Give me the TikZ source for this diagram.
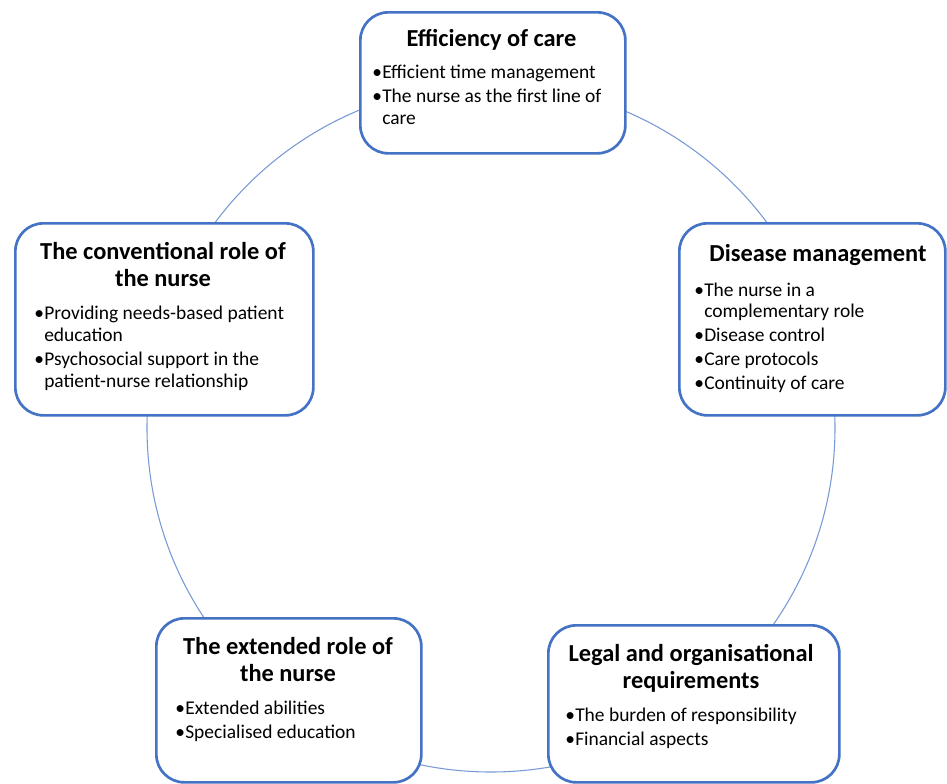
\documentclass[tikz,border=0pt]{standalone}
\usepackage{fontspec}
\setmainfont{Carlito}
\usetikzlibrary{calc}
\definecolor{boxblue}{HTML}{4472C4}
\definecolor{ringblue}{HTML}{7899D4}
\newlength\bulw
\setlength\bulw{7.5pt}
\def\Bul{\makebox[\bulw][l]{\textbullet}}
\def\Cont{\hspace*{\bulw}}
\def\ThemeBox#1#2#3#4#5{%
 \node[theme box, minimum width=#4*0.75pt, minimum height=#5*0.75pt] (#1) at (#2,#3) {};
}

\begin{document}
\begin{tikzpicture}[x=0.75pt, y=-0.75pt,
  theme box/.style={draw=boxblue, line width=2pt, rounded corners=21pt,
      fill=white, anchor=north west, inner sep=0pt},
  theme title/.style={font=\fontsize{18.3}{20.25}\selectfont\bfseries,
      align=center, anchor=base, inner sep=0pt},
  theme list/.style={font=\fontsize{14.6}{16.3}\selectfont,
      align=left, anchor=base west, inner sep=0pt}]
\useasboundingbox (0,0) rectangle (947,783);
\clip (0,0) rectangle (947,783);
\coordinate (hub) at (491,428);
\draw[ringblue, line width=0.8pt] (hub) circle[radius=344];

\ThemeBox{eff}{359}{11}{265}{141}
\ThemeBox{conv}{14}{222}{298}{192}
\ThemeBox{dis}{678}{222}{266}{192}
\ThemeBox{ext}{155}{617}{265}{164}
\ThemeBox{legal}{547}{624}{291}{157}

% titles (placed at the baseline of their last line)
\node[theme title] (eff title) at (491.5,46) {Efficiency of care};
\node[theme title] (conv title) at (163,286) {The conventional role of\\the nurse};
\node[theme title] (dis title) at (818,261) {Disease management};
\node[theme title] (ext title) at (288,681) {The extended role of\\the nurse};
\node[theme title] (legal title) at (691,688) {Legal and organisational\\requirements};

% bullet lists
\node[theme list] (eff list) at (372,124) {\Bul Efficient time management\\[1.5pt]
  \Bul The nurse as the first line of\\\Cont care};
\node[theme list] (conv list) at (34,387) {\Bul Providing needs-based patient\\\Cont education\\[1.5pt]
  \Bul Psychosocial support in the\\\Cont patient-nurse relationship};
\node[theme list] (dis list) at (694,389) {\Bul The nurse in a\\\Cont complementary role\\[1.5pt]
  \Bul Disease control\\[1.5pt]\Bul Care protocols\\[1.5pt]\Bul Continuity of care};
\node[theme list] (ext list) at (175,738) {\Bul Extended abilities\\[1.5pt]\Bul Specialised education};
\node[theme list] (legal list) at (565,745) {\Bul The burden of responsibility\\[1.5pt]\Bul Financial aspects};
\end{tikzpicture}
\end{document}
